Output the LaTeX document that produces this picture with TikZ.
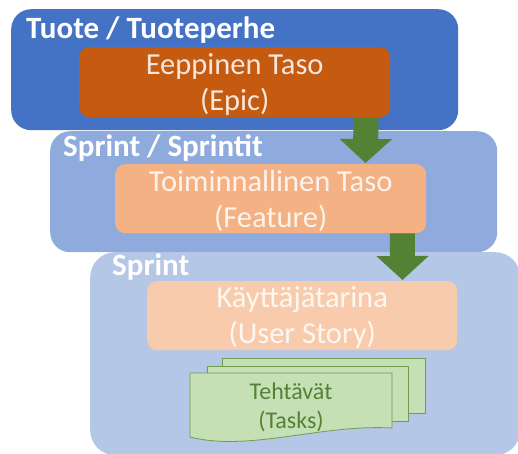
\documentclass[tikz,border=0pt]{standalone}
\usepackage{fontspec}
\setmainfont{Carlito}
\usetikzlibrary{arrows.meta}
\definecolor{prodblue}{HTML}{4472C4}
\definecolor{sprintsblue}{HTML}{8FAADC}
\definecolor{sprintblue}{HTML}{B4C7E7}
\definecolor{epicor}{HTML}{C55A11}
\definecolor{featureor}{HTML}{F4B183}
\definecolor{storyor}{HTML}{F8CBAD}
\definecolor{taskfill}{HTML}{C5E0B4}
\definecolor{taskline}{HTML}{6E9E4C}
\definecolor{darkgreen}{HTML}{548235}
\begin{document}
\begin{tikzpicture}[x=1pt,y=-1pt,
  levelbox/.style={rounded corners=20pt, inner sep=0pt, anchor=north west},
  itembox/.style={rounded corners=10pt, inner sep=0pt, anchor=north west},
  leveltitle/.style={anchor=base west, inner sep=0pt, text=white,
    font=\fontsize{31}{36}\selectfont\bfseries},
  itemlabel/.style={anchor=base, align=center, inner sep=0pt, text=white,
    text opacity=0.85, font=\fontsize{30.5}{36}\selectfont},
  flow/.style={draw=darkgreen, line width=25pt,
    -{Triangle[width=51pt,length=24pt]}},
  page/.style={fill=taskfill, draw=taskline, line width=0.8pt},
]
\useasboundingbox (0,0) rectangle (518,453);

% product level
\node[levelbox, fill=prodblue, minimum width=447pt, minimum height=121pt] (prod) at (11,9) {};
\node[leveltitle] (prodtitle) at (26,38) {Tuote / Tuoteperhe};
\node[itembox, fill=epicor, minimum width=311pt, minimum height=70pt] (epic) at (79,47) {};
% the base anchor of a two-line label sits on its last line
\node[itemlabel] (epictext) at ([yshift=-63pt]epic.north) {Eeppinen Taso\\(Epic)};

% sprints level
\node[levelbox, fill=sprintsblue, minimum width=447pt, minimum height=121pt] (sprints) at (50,131) {};
\node[leveltitle] (sprintstitle) at (63,156) {Sprint / Sprintit};
\draw[flow] ([xshift=-24.5pt]epic.south east) -- (365.5,163);
\node[itembox, fill=featureor, minimum width=311pt, minimum height=69pt] (feature) at (115,164) {};
\node[itemlabel] (featuretext) at ([yshift=-63pt]feature.north) {Toiminnallinen Taso\\(Feature)};

% single sprint level
\node[levelbox, rounded corners=25pt, fill=sprintblue, minimum width=430pt, minimum height=203pt] (sprint) at (90,252) {};
\node[leveltitle] (sprinttitle) at (112,275) {Sprint};
\draw[flow] ([xshift=-24pt]feature.south east) -- (402.5,280);
\node[itembox, fill=storyor, minimum width=310pt, minimum height=69pt] (story) at (147,281) {};
\node[itemlabel] (storytext) at ([yshift=-62pt]story.north) {Käyttäjätarina\\(User Story)};

% stack of task pages
\draw[page] (222,358) -- (425,358) -- (425,413) -- (222,413) -- cycle;
\draw[page] (207,366) -- (408,366) -- (408,421) -- (207,421) -- cycle;
\draw[page] (190,373) -- (392,373) -- (392,428)
  .. controls (320,424) and (250,452) .. (190,437) -- cycle;
\node[anchor=base, align=center, inner sep=0pt, text=darkgreen,
  font=\fontsize{24}{29}\selectfont] (tasks) at (291,428) {Tehtävät\\(Tasks)};
\end{tikzpicture}
\end{document}
